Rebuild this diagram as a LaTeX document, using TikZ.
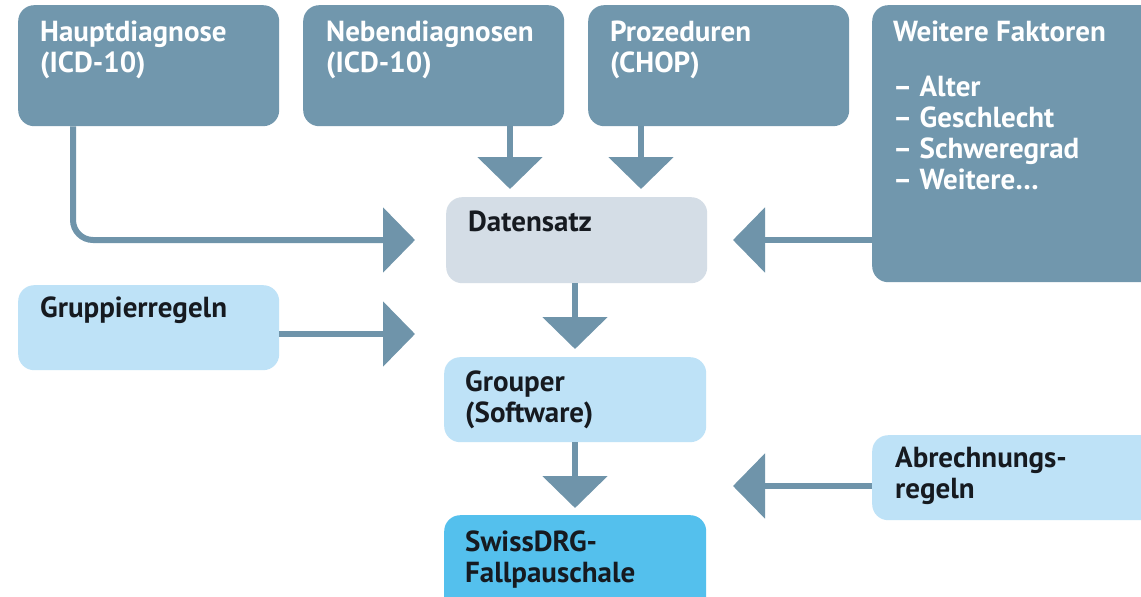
\documentclass[tikz,border=0pt]{standalone}
\usepackage{fontspec}
\setmainfont{PT Sans}
\usetikzlibrary{arrows.meta}
\definecolor{darkbox}{RGB}{113,151,173}
\definecolor{arrowcol}{RGB}{111,148,170}
\definecolor{greybox}{RGB}{212,221,230}
\definecolor{lightbox}{RGB}{190,226,247}
\definecolor{brightbox}{RGB}{84,192,237}
\definecolor{txtdark}{RGB}{22,26,32}
\tikzset{
  box/.style={rectangle, rounded corners=16pt, inner sep=0pt, anchor=north west, draw=none},
  lbl/.style={anchor=north west, inner sep=0pt, align=left,
    font=\fontsize{29}{31}\selectfont\bfseries},
  wlbl/.style={lbl, text=white},
  blbl/.style={lbl, text=txtdark},
  flow/.style={draw=arrowcol, line width=6pt,
    -{Triangle[length=32pt,width=64pt]}}
}
\begin{document}
\begin{tikzpicture}[x=1pt,y=-1pt]
\useasboundingbox (0,0) rectangle (1141,597);
\fill[white] (0,0) rectangle (1141,597);
% boxes
\node[box, fill=darkbox, minimum width=261pt, minimum height=121pt] (haupt) at (18,5) {};
\node[box, fill=darkbox, minimum width=261pt, minimum height=121pt] (neben) at (303,5) {};
\node[box, fill=darkbox, minimum width=261pt, minimum height=121pt] (proz) at (588,5) {};
\node[box, fill=darkbox, minimum width=300pt, minimum height=277pt] (weitere) at (872,5) {};
\node[box, fill=greybox, minimum width=261pt, minimum height=86pt] (daten) at (446,197) {};
\node[box, fill=lightbox, minimum width=261pt, minimum height=85pt] (gruppier) at (18,285) {};
\node[box, fill=lightbox, minimum width=262pt, minimum height=85pt] (grouper) at (444,357) {};
\node[box, fill=lightbox, minimum width=300pt, minimum height=85pt] (abrech) at (872,435) {};
\node[box, fill=brightbox, minimum width=262pt, minimum height=110pt] (swiss) at (444,515) {};
% texts
\node[wlbl] (thaupt) at ([shift={(22,16)}]haupt.north west) {Hauptdiagnose\\(ICD-10)};
\node[wlbl] (tneben) at ([shift={(23,16)}]neben.north west) {Nebendiagnosen\\(ICD-10)};
\node[wlbl] (tproz) at ([shift={(22,16)}]proz.north west) {Prozeduren\\(CHOP)};
\node[wlbl] (tweitere) at ([shift={(21,16)}]weitere.north west) {Weitere Faktoren\\[24pt]– Alter\\– Geschlecht\\– Schweregrad\\– Weitere…};
\node[blbl] (tdaten) at ([shift={(22,14)}]daten.north west) {Datensatz};
\node[blbl] (tgruppier) at ([shift={(22,12)}]gruppier.north west) {Gruppierregeln};
\node[blbl] (tgrouper) at ([shift={(21,14)}]grouper.north west) {Grouper\\(Software)};
\node[blbl] (tabrech) at ([shift={(23,12)}]abrech.north west) {Abrechnungs-\\regeln};
\node[blbl] (tswiss) at ([shift={(21,16)}]swiss.north west) {SwissDRG-\\Fallpauschale};
% arrow tips (free ends)
\coordinate (tipH) at (415,240);
\coordinate (tipN) at (510,189);
\coordinate (tipP) at (641,189);
\coordinate (tipW) at (733,240);
\coordinate (tipD) at (575,349);
\coordinate (tipG) at (415,334);
\coordinate (tipS) at (575,508);
\coordinate (tipA) at (733,486);
% connectors
\draw[flow, rounded corners=20pt] ([xshift=55pt]haupt.south west) |- (tipH);
\draw[flow] (tipN |- neben.south) -- (tipN);
\draw[flow] (tipP |- proz.south) -- (tipP);
\draw[flow] (weitere.west |- tipW) -- (tipW);
\draw[flow] (tipD |- daten.south) -- (tipD);
\draw[flow] (gruppier.east |- tipG) -- (tipG);
\draw[flow] (tipS |- grouper.south) -- (tipS);
\draw[flow] (abrech.west |- tipA) -- (tipA);
\end{tikzpicture}
\end{document}
